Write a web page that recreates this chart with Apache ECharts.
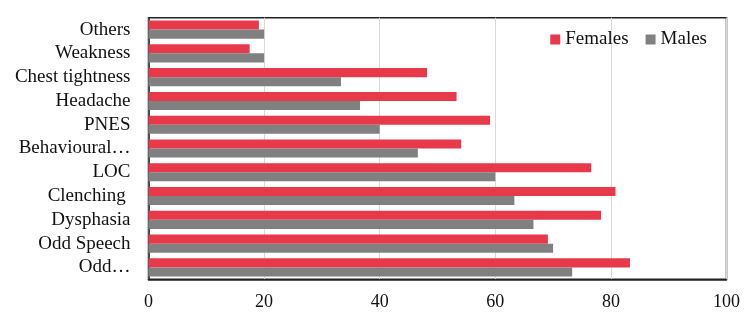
<!DOCTYPE html>
<html><head><meta charset="utf-8">
<script src="https://cdn.jsdelivr.net/npm/echarts@6/dist/echarts.min.js"></script>
<style>html,body{margin:0;padding:0;background:#fff}#c{width:750px;height:331px}</style>
</head><body><div id="c"></div>
<script>
var categories = ['Odd…','Odd Speech','Dysphasia','Clenching ','LOC','Behavioural…','PNES','Headache','Chest tightness','Weakness','Others'];
var females = [83.3,69.1,78.3,80.8,76.6,54.1,59.1,53.3,48.2,17.5,19.1];
var males = [73.3,70.0,66.6,63.3,60.0,46.6,40.0,36.6,33.3,20.0,20.0];
var xTicks = {min:0,max:100,interval:20};

var font = 'Liberation Serif';
var chart = echarts.init(document.getElementById('c'));
chart.setOption({
  animation:false,
  grid:{left:148.5,right:23.5,top:17.7,bottom:51.7,show:true,borderColor:'#222',borderWidth:1.5},
  legend:{data:['Females','Males'],top:25,right:38,itemWidth:10,itemHeight:10,itemGap:17,itemTextGap:3,
    icon:'rect',textStyle:{fontFamily:font,fontSize:19,color:'#111'}},
  xAxis:{type:'value',min:xTicks.min,max:xTicks.max,interval:xTicks.interval,
    axisLine:{show:true,lineStyle:{color:'#222',width:1.5}},axisTick:{show:false},
    splitLine:{show:true,lineStyle:{color:'#d9d9d9',width:1}},
    axisLabel:{fontFamily:font,fontSize:18,color:'#111',margin:14}},
  yAxis:{type:'category',data:categories,
    axisLine:{show:true,lineStyle:{color:'#222',width:1.5}},axisTick:{show:false},
    axisLabel:{interval:0,fontFamily:font,fontSize:19,color:'#111',margin:18}},
  series:[
    {name:'Females',type:'bar',data:females,itemStyle:{color:'#E8394A'},barGap:'0%',barCategoryGap:'24%'},
    {name:'Males',type:'bar',data:males,itemStyle:{color:'#808080'},barGap:'0%',barCategoryGap:'24%'}
  ]
});
</script></body></html>
